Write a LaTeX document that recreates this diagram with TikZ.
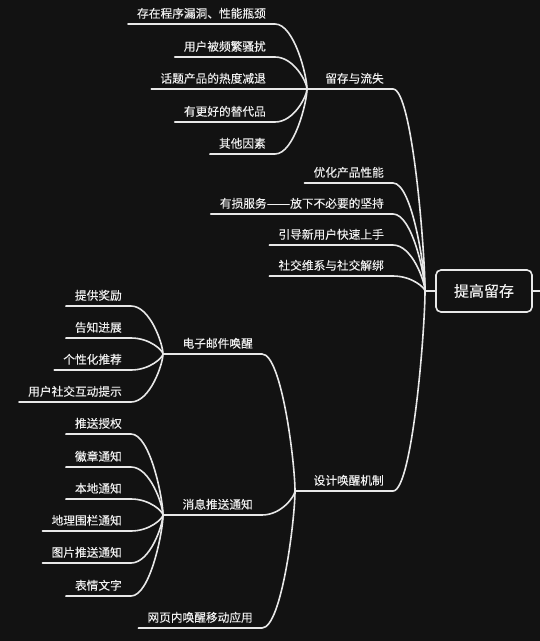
\documentclass[tikz,border=0pt]{standalone}
\usepackage{graphicx}
\usepackage{fontspec}
\setmainfont[FakeBold=0.15]{Noto Sans CJK SC}
\usetikzlibrary{calc}
\definecolor{bgdark}{HTML}{121212}
\definecolor{inkline}{HTML}{E8E8E8}
\definecolor{inktext}{HTML}{F0F0F0}

\begin{document}
\begin{tikzpicture}[
  x=1pt, y=-1pt,
  topic/.style={anchor=south east, inner xsep=9pt, inner ysep=5pt,
    text height=9.6pt, text depth=1pt, text=inktext,
    font=\fontsize{11.7pt}{14pt}\selectfont},
  rootbox/.style={draw=inkline, line width=1.6pt, rounded corners=5pt,
    minimum width=96pt, minimum height=42pt, text=inktext,
    font=\fontsize{15pt}{18pt}\selectfont},
  wire/.style={draw=inkline, line width=1.6pt, line cap=round},
  limb/.style={to path={.. controls ($(\tikztostart)!0.6!(\tikztotarget |- \tikztostart)$)
    and ($(\tikztotarget)!0.2!(\tikztotarget |- \tikztostart)$) .. (\tikztotarget)}}
]
\useasboundingbox (0,0) rectangle (540,641);
\fill[bgdark] (0,0) rectangle (540,641);

% root
\node[rootbox] (root) at (484,291) {提高留存};
\coordinate (hub) at (425,291);
\coordinate (offpage) at (540,291);
\draw[wire] (hub) -- (root.west);
\draw[wire] (root.east) -- (offpage);

% first level
\node[topic] (churn) at (393,89) {留存与流失};
\node[topic] (perf) at (393,183) {优化产品性能};
\node[topic] (lossy) at (393,214) {有损服务\scalebox{1.2}[1]{——}放下不必要的坚持};
\node[topic] (onboard) at (393,245) {引导新用户快速上手};
\node[topic] (social) at (393,276) {社交维系与社交解绑};
\node[topic] (wake) at (393,491) {设计唤醒机制};
\coordinate (churnhub) at (307,89);
\coordinate (wakehub) at (295,491);

\draw[wire] (churnhub) -- (churn.south west) -- (churn.south east) to[limb] (hub);
\draw[wire] (perf.south west) -- (perf.south east) to[limb] (hub);
\draw[wire] (lossy.south west) -- (lossy.south east) to[limb] (hub);
\draw[wire] (onboard.south west) -- (onboard.south east) to[limb] (hub);
\draw[wire] (social.south west) -- (social.south east) to[limb] (hub);
\draw[wire] (wakehub) -- (wake.south west) -- (wake.south east) to[limb] (hub);

% churn reasons
\node[topic] (bug) at (275,24) {存在程序漏洞、性能瓶颈};
\node[topic] (spam) at (275,57) {用户被频繁骚扰};
\node[topic] (fade) at (275,89) {话题产品的热度减退};
\node[topic] (rival) at (275,122) {有更好的替代品};
\node[topic] (other) at (275,154) {其他因素};
\draw[wire] (bug.south west) -- (bug.south east) to[limb] (churnhub);
\draw[wire] (spam.south west) -- (spam.south east) to[limb] (churnhub);
\draw[wire] (fade.south west) -- (fade.south east) to[limb] (churnhub);
\draw[wire] (rival.south west) -- (rival.south east) to[limb] (churnhub);
\draw[wire] (other.south west) -- (other.south east) to[limb] (churnhub);

% wake-up channels
\node[topic] (mail) at (262,354) {电子邮件唤醒};
\node[topic] (push) at (262,515) {消息推送通知};
\node[topic] (web) at (262,628) {网页内唤醒移动应用};
\coordinate (mailhub) at (163,354);
\coordinate (pushhub) at (163,515);
\draw[wire] (mailhub) -- (mail.south west) -- (mail.south east) to[limb] (wakehub);
\draw[wire] (pushhub) -- (push.south west) -- (push.south east) to[limb] (wakehub);
\draw[wire] (web.south west) -- (web.south east) to[limb] (wakehub);

% mail items
\node[topic] (reward) at (131,306) {提供奖励};
\node[topic] (progress) at (131,338) {告知进展};
\node[topic] (recommend) at (131,370) {个性化推荐};
\node[topic] (interact) at (131,402) {用户社交互动提示};
\draw[wire] (reward.south west) -- (reward.south east) to[limb] (mailhub);
\draw[wire] (progress.south west) -- (progress.south east) to[limb] (mailhub);
\draw[wire] (recommend.south west) -- (recommend.south east) to[limb] (mailhub);
\draw[wire] (interact.south west) -- (interact.south east) to[limb] (mailhub);

% push items
\node[topic] (permit) at (131,434) {推送授权};
\node[topic] (badge) at (131,467) {徽章通知};
\node[topic] (local) at (131,499) {本地通知};
\node[topic] (geofence) at (131,531) {地理围栏通知};
\node[topic] (picture) at (131,563) {图片推送通知};
\node[topic] (emoji) at (131,596) {表情文字};
\draw[wire] (permit.south west) -- (permit.south east) to[limb] (pushhub);
\draw[wire] (badge.south west) -- (badge.south east) to[limb] (pushhub);
\draw[wire] (local.south west) -- (local.south east) to[limb] (pushhub);
\draw[wire] (geofence.south west) -- (geofence.south east) to[limb] (pushhub);
\draw[wire] (picture.south west) -- (picture.south east) to[limb] (pushhub);
\draw[wire] (emoji.south west) -- (emoji.south east) to[limb] (pushhub);
\end{tikzpicture}
\end{document}
